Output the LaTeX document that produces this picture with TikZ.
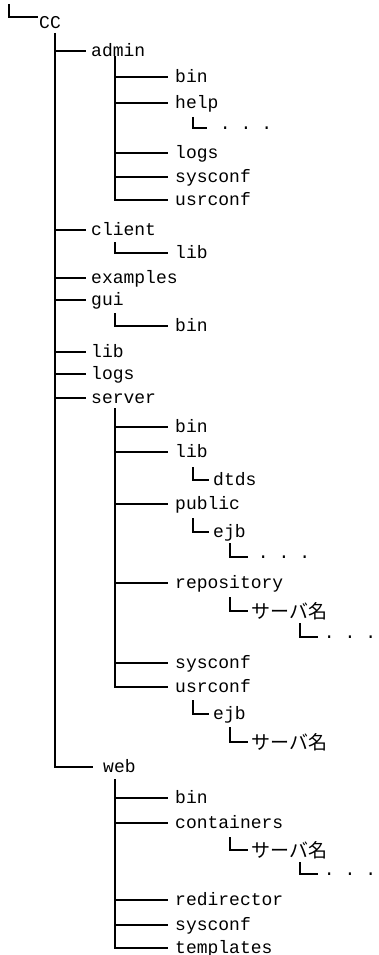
\documentclass[tikz,border=0pt]{standalone}
\usepackage{fontspec}
\setmainfont{Liberation Mono}
\newfontfamily\jpfont{Noto Sans CJK JP}

% directory entry: horizontal end point (#1-e) and its label node (#1)
\newcommand\dirent[5]{%
  \coordinate (#1-e) at (#2,#3);
  \node[lbl] (#1) at (#4,#3+5.5) {#5};}
% same for a Japanese label
\newcommand\jpent[5]{%
  \coordinate (#1-e) at (#2,#3);
  \node[jp] (#1) at (#4,#3+7.5) {#5};}
% "more entries" marker: three dots after an elbow
\newcommand\dotent[4]{%
  \coordinate (#1-e) at (#2,#3);
  \node[lbl] (#1) at (#4-5.4,#3+1.5) {.\hspace{10pt}.\hspace{10pt}.};}

\begin{document}
\begin{tikzpicture}[x=1pt,y=-1pt,
  ln/.style={line width=1.7pt},
  lbl/.style={anchor=base west, inner sep=0pt, font=\fontsize{18}{18}\selectfont},
  jp/.style={anchor=base west, inner sep=0pt, font=\fontsize{19}{19}\selectfont\jpfont}]
\useasboundingbox (0,0) rectangle (379,955);

% root
\coordinate (cc-top) at (9,4);
\coordinate (cc-e) at (38,17);
\node[lbl] (cc) at (39,29) {CC};
\draw[ln] (cc-top) |- (cc-e);

% first level
\coordinate (t0) at (55,33);
\dirent{admin}{86}{51}{91}{admin}
\dirent{client}{86}{230}{91}{client}
\dirent{examples}{86}{278}{91}{examples}
\dirent{gui}{86}{300}{91}{gui}
\dirent{lib}{86}{352}{91}{lib}
\dirent{logs}{86}{374}{91}{logs}
\dirent{server}{86}{398}{91}{server}
\dirent{web}{93}{767}{103}{web}
\draw[ln] (t0) |- (web-e);
\foreach \n in {admin,client,examples,gui,lib,logs,server}
  \draw[ln] (t0 |- \n-e) -- (\n-e);

% admin
\coordinate (t1) at (115,56);
\dirent{adm-bin}{168}{77}{175}{bin}
\dirent{adm-help}{168}{103}{175}{help}
\dirent{adm-logs}{168}{153}{175}{logs}
\dirent{adm-sys}{168}{177}{175}{sysconf}
\dirent{adm-usr}{168}{200}{175}{usrconf}
\draw[ln] (t1) |- (adm-usr-e);
\foreach \n in {adm-bin,adm-help,adm-logs,adm-sys}
  \draw[ln] (t1 |- \n-e) -- (\n-e);
\coordinate (t1a) at (193,117);
\dotent{help-more}{207}{128}{225}
\draw[ln] (t1a) |- (help-more-e);

% client
\coordinate (t2) at (115,242);
\dirent{cli-lib}{168}{253}{175}{lib}
\draw[ln] (t2) |- (cli-lib-e);

% gui
\coordinate (t3) at (115,313);
\dirent{gui-bin}{168}{326}{175}{bin}
\draw[ln] (t3) |- (gui-bin-e);

% server
\coordinate (t4) at (115,408);
\dirent{srv-bin}{168}{427}{175}{bin}
\dirent{srv-lib}{168}{452}{175}{lib}
\dirent{srv-pub}{168}{504}{175}{public}
\dirent{srv-rep}{168}{583}{175}{repository}
\dirent{srv-sys}{168}{663}{175}{sysconf}
\dirent{srv-usr}{168}{687}{175}{usrconf}
\draw[ln] (t4) |- (srv-usr-e);
\foreach \n in {srv-bin,srv-lib,srv-pub,srv-rep,srv-sys}
  \draw[ln] (t4 |- \n-e) -- (\n-e);

\coordinate (t4a) at (193,467);
\dirent{dtds}{209}{480}{213}{dtds}
\draw[ln] (t4a) |- (dtds-e);

\coordinate (t4b) at (193,518);
\dirent{pub-ejb}{209}{532}{213}{ejb}
\draw[ln] (t4b) |- (pub-ejb-e);
\coordinate (t4c) at (230,543);
\dotent{ejb-more}{248}{557}{263}
\draw[ln] (t4c) |- (ejb-more-e);

\coordinate (t4d) at (230,597);
\jpent{rep-srv}{248}{611}{251}{サーバ名}
\draw[ln] (t4d) |- (rep-srv-e);
\coordinate (t4e) at (300,623);
\dotent{rep-more}{318}{637}{329}
\draw[ln] (t4e) |- (rep-more-e);

\coordinate (t4f) at (193,700);
\dirent{usr-ejb}{209}{714}{213}{ejb}
\draw[ln] (t4f) |- (usr-ejb-e);
\coordinate (t4g) at (230,727);
\jpent{usr-srv}{248}{742}{251}{サーバ名}
\draw[ln] (t4g) |- (usr-srv-e);

% web
\coordinate (t5) at (115,779);
\dirent{web-bin}{168}{798}{175}{bin}
\dirent{web-con}{168}{823}{175}{containers}
\dirent{web-red}{168}{900}{175}{redirector}
\dirent{web-sys}{168}{925}{175}{sysconf}
\dirent{web-tpl}{168}{948}{175}{templates}
\draw[ln] (t5) |- (web-tpl-e);
\foreach \n in {web-bin,web-con,web-red,web-sys}
  \draw[ln] (t5 |- \n-e) -- (\n-e);

\coordinate (t5a) at (230,837);
\jpent{con-srv}{248}{850}{251}{サーバ名}
\draw[ln] (t5a) |- (con-srv-e);
\coordinate (t5b) at (300,862);
\dotent{con-more}{318}{874}{329}
\draw[ln] (t5b) |- (con-more-e);
\end{tikzpicture}
\end{document}
